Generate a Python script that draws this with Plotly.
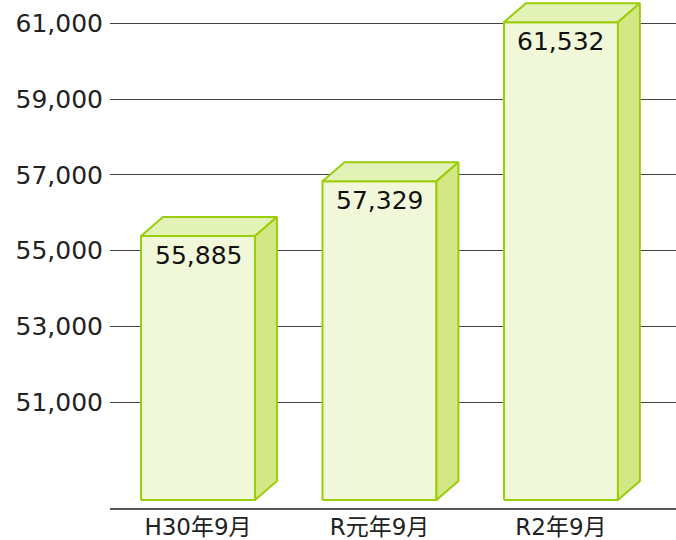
import plotly.graph_objects as go

categories = ["H30年9月", "R元年9月", "R2年9月"]
values = [55885, 57329, 61532]
value_labels = ["55,885", "57,329", "61,532"]
y_tickvals = [51000, 53000, 55000, 57000, 59000, 61000]
y_ticktext = ["51,000", "53,000", "55,000", "57,000", "59,000", "61,000"]

# styling / geometry (axis units)
Y_MIN, Y_MAX = 48201, 61615
X_MIN, X_MAX = -0.485, 2.634
BASE = 48412
W = 0.628
DX = 0.121
DY = 502

FRONT = "#f1f8da"
TOP = "#e3f2b6"
SIDE = "#d3e884"
EDGE = "#9acd0a"
FONT = "DejaVu Sans, Noto Sans CJK JP, sans-serif"

fig = go.Figure()

for i, (v, lab) in enumerate(zip(values, value_labels)):
    c = i
    l, r = c - W / 2, c + W / 2
    ft = v - DY
    faces = [
        ([l, r, r, l, l], [BASE, BASE, ft, ft, BASE], FRONT),
        ([l, r, r + DX, l + DX, l], [ft, ft, v, v, ft], TOP),
        ([r, r + DX, r + DX, r, r], [BASE, BASE + DY, v, ft, BASE], SIDE),
    ]
    for xs, ys, col in faces:
        fig.add_trace(go.Scatter(
            x=xs, y=ys, mode="lines", fill="toself", fillcolor=col,
            line=dict(color=EDGE, width=2), hoverinfo="skip", showlegend=False,
        ))
    fig.add_annotation(
        x=c, y=ft, xref="x", yref="y", text=lab, showarrow=False,
        xanchor="center", yanchor="top", yshift=-3,
        font=dict(family=FONT, size=25, color="#111111"),
    )

fig.update_layout(
    width=676, height=540,
    margin=dict(l=110, r=0, t=0, b=32),
    paper_bgcolor="white", plot_bgcolor="white",
    showlegend=False,
    xaxis=dict(
        range=[X_MIN, X_MAX], tickvals=[0, 1, 2], ticktext=categories,
        showgrid=False, zeroline=False, showline=True, linecolor="#555555",
        linewidth=2, ticks="", ticklabelstandoff=-3,
        tickfont=dict(family=FONT, size=23, color="#222222"),
        fixedrange=True, automargin=False,
    ),
    yaxis=dict(
        range=[Y_MIN, Y_MAX], tickvals=y_tickvals, ticktext=y_ticktext,
        showgrid=True, gridcolor="#444444", gridwidth=1, zeroline=False,
        showline=False, ticks="", ticklabelstandoff=6,
        tickfont=dict(family=FONT, size=25, color="#222222"),
        fixedrange=True, automargin=False,
    ),
)

fig.write_html(
    "out.html",
    config={"displayModeBar": False},
    post_script="document.body.style.margin='0';document.body.style.overflow='hidden';",
)
